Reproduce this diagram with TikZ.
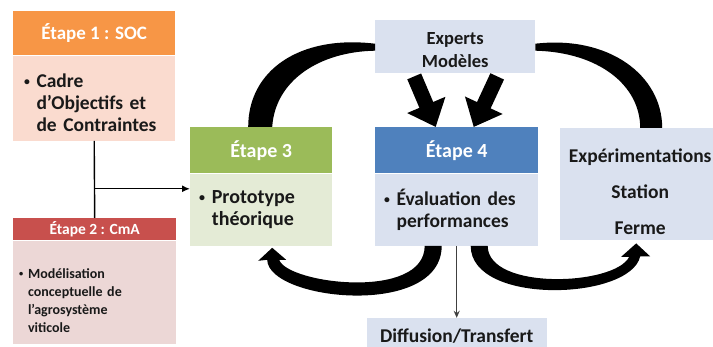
\documentclass[tikz,border=0pt]{standalone}
\usepackage{fontspec}
\setmainfont{Carlito}
\usetikzlibrary{arrows.meta,positioning}

\definecolor{socorange}{HTML}{F79646}
\definecolor{socpale}{HTML}{FADBCF}
\definecolor{cmared}{HTML}{C8504D}
\definecolor{cmapale}{HTML}{ECD7D6}
\definecolor{protogreen}{HTML}{9BBB59}
\definecolor{protopale}{HTML}{E4EBD6}
\definecolor{evalblue}{HTML}{4F81BD}
\definecolor{paleblue}{HTML}{DAE1EF}

\newcommand{\puce}{\raisebox{0.1em}{\scalebox{0.6}{\textbullet}}\ }
\newcommand{\suite}{\phantom{\puce}}

\begin{document}
\begin{tikzpicture}
  [x=1pt,y=-1pt,
 header/.style={
  rectangle,
  anchor=north west,
  inner sep=0pt,
  text=white},
 body/.style={
  rectangle,
  inner ysep=0pt,
  align=left,
  text=black!90},
 panel/.style={
  rectangle,
  fill=paleblue,
  inner sep=0pt,
  align=center,
  text=black!90},
 link/.style={draw=black, line width=1.4pt},
 bigarrow/.style={line width=15pt, -{Triangle[length=24pt,width=40pt]}},
 swoosh/.style={fill=black}]
\useasboundingbox[fill=white] (0,0) rectangle (713,347);
% steps 1 and 2
\node (e1h) [header, fill=socorange, minimum width=162pt, minimum height=44pt,
  font=\bfseries\fontsize{19}{22}\selectfont] at (13,11) {Étape 1 : SOC};
\node (e1b) [body, fill=socpale, below=0pt of e1h, minimum width=162pt, minimum height=85pt,
  text width=140pt, inner xsep=11pt, font=\bfseries\fontsize{19.5}{22}\selectfont]
  {\rule{0pt}{22pt}\puce Cadre\\\suite d’Objectifs et\\\suite de Contraintes};
\node (e2h) [header, fill=cmared, minimum width=163pt, minimum height=22pt,
  font=\bfseries\fontsize{15.5}{17}\selectfont] at (13,218) {Étape 2 : CmA};
\node (e2b) [body, fill=cmapale, below=0pt of e2h, minimum width=163pt, minimum height=103pt,
  text width=151pt, inner xsep=6pt, font=\bfseries\fontsize{14}{18}\selectfont]
  {\rule{0pt}{26pt}\puce Modélisation\\\suite conceptuelle de\\\suite l’agrosystème\\\suite viticole};
% steps 3 and 4
\node (e3h) [header, fill=protogreen, minimum width=142pt, minimum height=46pt,
  font=\bfseries\fontsize{20}{22}\selectfont] at (190,127) {Étape 3};
\node (e3b) [body, fill=protopale, below=0pt of e3h, minimum width=142pt, minimum height=72pt,
  text width=124pt, inner xsep=9pt, font=\bfseries\fontsize{20}{21.5}\selectfont]
  {\puce Prototype\\\suite théorique};
\node (e4h) [header, fill=evalblue, minimum width=163pt, minimum height=46pt,
  font=\bfseries\fontsize{20}{22}\selectfont] at (375,127) {Étape 4};
\node (e4b) [body, fill=paleblue, below=0pt of e4h, minimum width=163pt, minimum height=72pt,
  text width=145pt, inner xsep=9pt, font=\bfseries\fontsize{19.5}{21.5}\selectfont]
  {\puce Évaluation des\\\suite performances};
% side panels
\node (experts) [panel, anchor=north west, minimum width=160pt, minimum height=53pt,
  font=\bfseries\fontsize{18.5}{23}\selectfont] at (375,20) {\rule{0pt}{18pt}Experts\\Modèles};
\node (exper) [panel, anchor=north west, minimum width=160pt, minimum height=112pt,
  font=\bfseries\fontsize{19.5}{23}\selectfont] at (560,128)
  {\rule{0pt}{28pt}Expérimentations\\[13pt]Station\\[13pt]Ferme};
\node (diff) [panel, below=72pt of e4b, minimum width=180pt, minimum height=36pt,
  font=\bfseries\fontsize{19.5}{22}\selectfont] {Diffusion/Transfert};
% connectors
\coordinate [below=48pt of e1b.south] (fork);
\draw[link] (e1b.south) -- (e2h.north);
\draw[link, -{Latex[length=8pt,width=7pt]}] (fork) -- (fork -| e3b.west);
\draw[bigarrow] ([xshift=-41pt,yshift=-3pt]experts.south) -- ([xshift=-21pt]e4h.north);
\draw[bigarrow] ([xshift=42pt,yshift=-3pt]experts.south) -- ([xshift=17pt]e4h.north);
\draw[-{Stealth[length=7pt,width=6pt]}, line width=1.2pt, black!75] (e4b.south) -- (diff.north);
% swooshes
\fill[swoosh] ([yshift=3pt]experts.west) .. controls +(-75,-9) and +(0,-57) .. ([xshift=-13pt]e3h.north)
  -- ([xshift=11pt]e3h.north) .. controls +(3,-47) and +(-55,1) .. ([yshift=-4pt]experts.west) -- cycle;
\fill[swoosh] ([yshift=3pt]experts.east) .. controls +(73,-8.5) and +(0,-53) .. ([xshift=22pt]exper.north)
  -- (exper.north) .. controls +(0,-43) and +(63,1.5) .. ([yshift=-4pt]experts.east) -- cycle;
\fill[swoosh] ([xshift=11pt,yshift=-2pt]e3b.south) -- ++(14,12) -- ++(-7,0)
  .. controls +(8,24) and +(0,55) .. ([xshift=-32pt]e4b.south)
  -- ([xshift=-15pt]e4b.south) .. controls +(0,73) and +(1,41) .. ++(-174.5,14)
  -- ++(-9,1) -- cycle;
\fill[swoosh] ([xshift=-4pt,yshift=-3pt]exper.south) -- ++(14,13) -- ++(-10,0)
  .. controls +(-10,44) and +(0,60) .. ([xshift=14pt]e4b.south)
  -- ([xshift=31pt]e4b.south) .. controls +(0,45) and +(-14,29) .. ++(141.5,11)
  -- ++(-8,0) -- cycle;
\end{tikzpicture}
\end{document}
